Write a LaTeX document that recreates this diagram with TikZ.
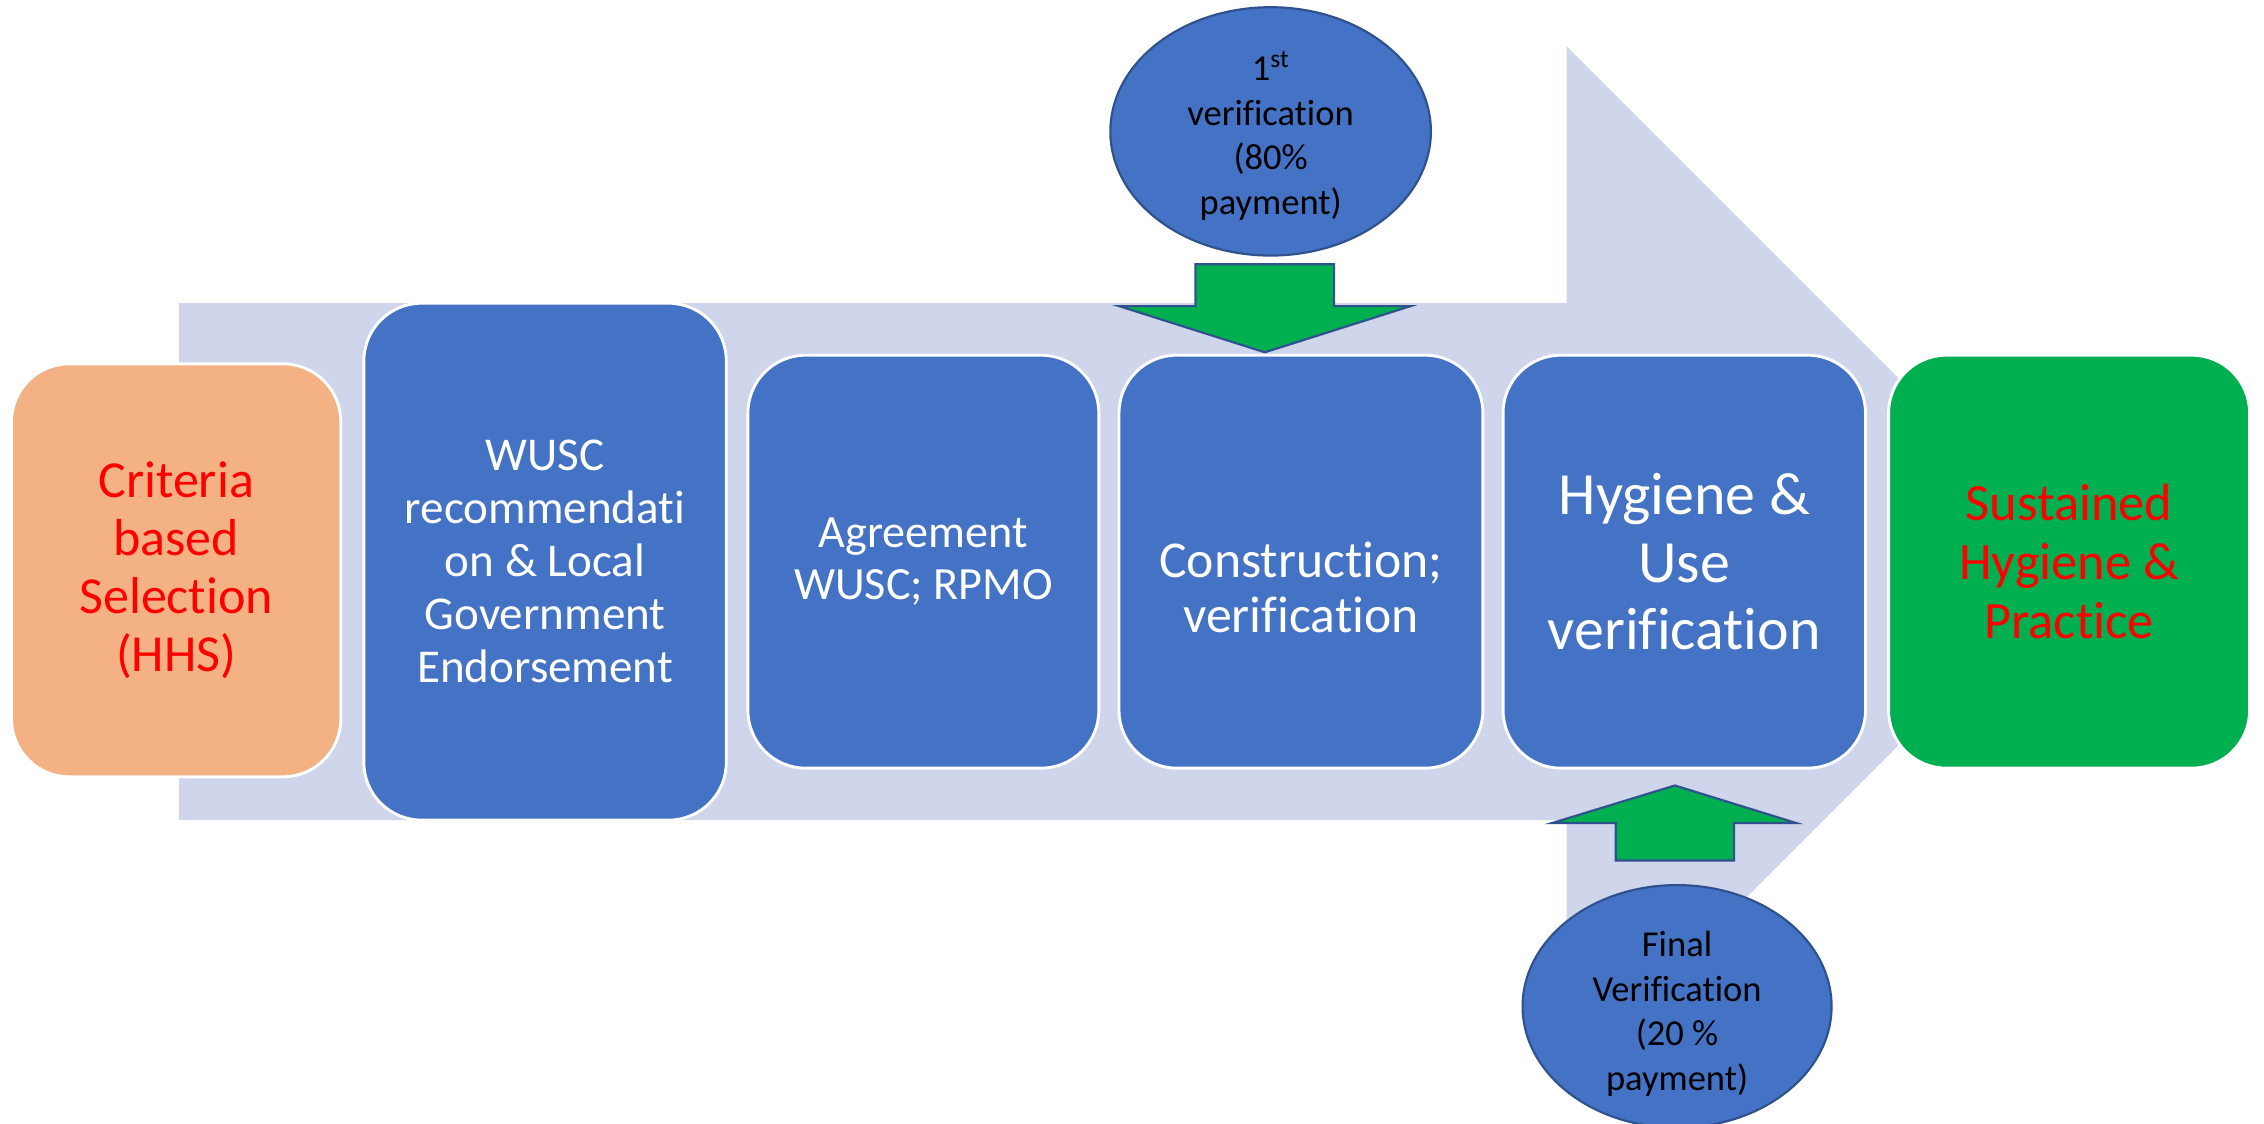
\documentclass[tikz,border=0pt]{standalone}
\usepackage{fontspec}
\setmainfont{Carlito}[Ligatures={NoCommon}]
\usetikzlibrary{shapes.geometric}
\definecolor{pblue}{HTML}{4472C4}
\definecolor{psalmon}{HTML}{F4B183}
\definecolor{pgreen}{HTML}{00B050}
\definecolor{plight}{HTML}{CFD5EA}
\definecolor{pedge}{HTML}{2F528F}
\definecolor{pred}{HTML}{FF0000}
\begin{document}
\begin{tikzpicture}[x=1pt,y=-1pt,
  box/.style={draw=white, line width=2pt, rounded corners=40pt, inner sep=0pt,
    minimum width=#1, align=center},
  boxh/.style={minimum height=#1},
  oval/.style={ellipse, draw=pedge, line width=1.5pt, fill=pblue, inner sep=0pt},
  ovaltxt/.style={align=center, inner sep=0pt, text=black,
    font=\fontsize{25.3}{30.8}\selectfont},
  blockarrow/.style={draw=pedge, line width=1.5pt, fill=pgreen, line join=miter},
  txt/.style={align=center, inner sep=0pt}
]
\useasboundingbox (0,0) rectangle (1568,778);

% big background arrow
\fill[plight] (124,210) -- (1085,210) -- (1085,32) -- (1442,389) -- (1085,746)
  -- (1085,568) -- (124,568) -- cycle;

% process boxes
\node[box=228pt, boxh=286pt, fill=psalmon, text=pred,
  font=\fontsize{36}{40}\selectfont] (crit) at (122,395)
  {Criteria\\based\\Selection\\(HHS)};
\node[box=251pt, boxh=358pt, fill=pblue, text=white,
  font=\fontsize{32.6}{36.7}\selectfont] (wusc) at (377.5,389)
  {WUSC\\recommendati\\on \& Local\\Government\\Endorsement};
\node[box=243pt, boxh=286pt, fill=pblue, text=white,
  font=\fontsize{32}{36}\selectfont] (agr) at (639.5,389)
  {Agreement\\WUSC; RPMO};
\node[box=252pt, boxh=286pt, fill=pblue] (cons) at (901,389) {};
\node[txt, text=white, font=\fontsize{35.8}{38}\selectfont]
  (constxt) at ([yshift=-18pt]cons.center) {Construction;\\verification};
\node[box=251pt, boxh=286pt, fill=pblue, text=white,
  font=\fontsize{41.5}{46.5}\selectfont] (hyg) at (1166.5,389)
  {Hygiene \&\\Use\\verification};
\node[box=250pt, boxh=286pt, fill=pgreen, text=pred,
  font=\fontsize{36.3}{41}\selectfont] (sust) at (1433,389)
  {Sustained\\Hygiene \&\\Practice};

% verification ovals
\node[oval, minimum width=222pt, minimum height=172pt] (v1) at (880,91) {};
\node[ovaltxt] (v1txt) at ([yshift=-3pt]v1.center)
  {1\textsuperscript{st}\\verification\\(80\%\\payment)};
\node[oval, minimum width=214pt, minimum height=168pt] (v2) at (1161.5,697) {};
\node[ovaltxt] (v2txt) at ([yshift=-5pt]v2.center)
  {Final\\Verification\\(20 \%\\payment)};

% green block arrows
\coordinate (d1) at (876,183);
\coordinate (d2) at (876,244);
\draw[blockarrow] ([xshift=-48pt]d1) -- ([xshift=48pt]d1) -- ([xshift=48pt]d1 |- 0,212)
  -- (977,212) -- (d2) -- (775,212) -- ([xshift=-48pt]d1 |- 0,212) -- cycle;
\coordinate (u1) at (1160,596);
\coordinate (u2) at (1160,544);
\draw[blockarrow] ([xshift=-41pt]u1) -- ([xshift=41pt]u1) -- ([xshift=41pt]u1 |- 0,570)
  -- (1244,570) -- (u2) -- (1075,570) -- ([xshift=-41pt]u1 |- 0,570) -- cycle;
\end{tikzpicture}
\end{document}
